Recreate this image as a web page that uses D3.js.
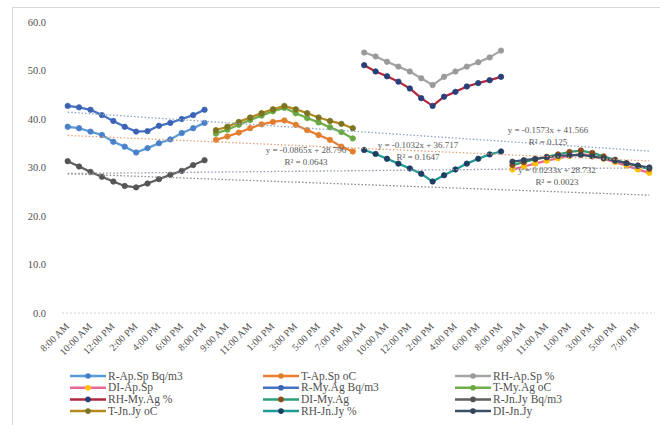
<!DOCTYPE html>
<html>
<head>
<meta charset="utf-8">
<script src="https://cdn.jsdelivr.net/npm/d3@7"></script>
<style>
  html, body { margin: 0; padding: 0; background: #fff; }
  svg { display: block; font-family: "Liberation Serif", "Times New Roman", serif; }
</style>
</head>
<body>
<svg id="chart" width="660" height="425"></svg>
<script>
// Hourly readings, 8:00 AM to 8:00 PM, one block per measured quantity
const hours = ["8:00 AM", "9:00 AM", "10:00 AM", "11:00 AM", "12:00 PM", "1:00 PM", "2:00 PM",
               "3:00 PM", "4:00 PM", "5:00 PM", "6:00 PM", "7:00 PM", "8:00 PM"];
const blocks = ["R", "T", "RH", "DI"];              // block order along the axis
const categories = blocks.flatMap(() => hours);     // 52 categories

const seriesNames = ["R-Ap.Sp Bq/m3", "T-Ap.Sp oC", "RH-Ap.Sp %", "DI-Ap.Sp",
                     "R-My.Ag Bq/m3", "T-My.Ag oC", "RH-My.Ag %", "DI-My.Ag",
                     "R-Jn.Jy Bq/m3", "T-Jn.Jy oC", "RH-Jn.Jy %", "DI-Jn.Jy"];
const seriesBlock = [0, 1, 2, 3, 0, 1, 2, 3, 0, 1, 2, 3];

const rApSp  = [38.4, 38.1, 37.4, 36.7, 35.3, 34.3, 33.1, 34.0, 35.0, 35.8, 37.1, 38.1, 39.2];
const tApSp  = [35.7, 36.4, 37.2, 38.1, 38.9, 39.4, 39.7, 38.8, 37.7, 36.7, 35.7, 34.3, 33.3];
const rhApSp = [53.7, 52.9, 51.8, 50.8, 49.8, 48.4, 47.0, 48.7, 49.8, 50.8, 51.7, 52.7, 54.1];
const diApSp = [29.6, 30.2, 30.8, 31.4, 31.9, 32.4, 32.8, 32.4, 31.8, 31.1, 30.4, 29.6, 28.9];
const rMyAg  = [42.7, 42.4, 41.9, 40.8, 39.6, 38.4, 37.4, 37.5, 38.6, 39.2, 40.0, 40.8, 41.9];
const tMyAg  = [37.0, 37.8, 38.8, 39.8, 40.7, 41.6, 42.3, 41.2, 40.2, 39.3, 38.3, 37.3, 36.0];
const rhMyAg = [51.1, 49.8, 48.8, 47.7, 46.3, 44.3, 42.7, 44.6, 45.6, 46.7, 47.4, 48.0, 48.7];
const diMyAg = [30.5, 31.1, 31.7, 32.2, 32.7, 33.2, 33.5, 33.0, 32.3, 31.6, 30.9, 30.3, 29.7];
const rJnJy  = [31.3, 30.2, 29.1, 28.1, 27.1, 26.2, 25.9, 26.7, 27.6, 28.5, 29.3, 30.5, 31.5];
const tJnJy  = [37.7, 38.4, 39.4, 40.3, 41.2, 42.0, 42.7, 42.0, 41.2, 40.3, 39.6, 39.0, 38.1];
const rhJnJy = [33.6, 32.8, 31.8, 30.8, 29.8, 28.7, 27.1, 28.4, 29.6, 30.8, 31.8, 32.7, 33.3];
const diJnJy = [31.2, 31.5, 31.8, 32.1, 32.4, 32.5, 32.6, 32.3, 31.9, 31.4, 30.9, 30.4, 30.0];

const seriesValues = [rApSp, tApSp, rhApSp, diApSp, rMyAg, tMyAg, rhMyAg, diMyAg,
                      rJnJy, tJnJy, rhJnJy, diJnJy];

const yTicks = [0, 10, 20, 30, 40, 50, 60];

// Linear trendlines (x = category number 1..52)
const trendSlopes     = [-0.1573, -0.1032, -0.0865, 0.0233];
const trendIntercepts = [41.566, 36.717, 28.796, 28.732];
const trendEquations  = ["y = -0.1573x + 41.566", "y = -0.1032x + 36.717",
                         "y = -0.0865x + 28.796", "y = 0.0233x + 28.732"];
const trendR2         = ["R² = 0.125", "R² = 0.1647", "R² = 0.0643", "R² = 0.0023"];

// Styling
const lineColors   = ["#5b9bd5", "#ed7d31", "#a5a5a5", "#e86a92",
                      "#4472c4", "#70ad47", "#b0283f", "#2e9e78",
                      "#5f5f5f", "#b38a1e", "#1f9a94", "#3d4f66"];
const markerColors = ["#4a7fc9", "#e0802e", "#9a9a9a", "#ffc000",
                      "#3b63b5", "#6aa843", "#26407a", "#8f4a1a",
                      "#555555", "#7a7424", "#1e3d63", "#33445a"];
const trendColors  = ["#8ea3c4", "#e6a27a", "#8a8a8a", "#8e9aa8"];
const trendLabelPos = [[548, 133], [418, 148], [306, 153], [557, 173]];

const svg = d3.select("#chart");
const W = 660, H = 425;

// chart frame
svg.append("rect").attr("x", 12.5).attr("y", 7.5).attr("width", W).attr("height", H)
   .attr("fill", "#fff").attr("stroke", "#d9d9d9").attr("stroke-width", 1);

const x = d3.scalePoint().domain(d3.range(categories.length)).range([62, 655]).padding(0.5);
const y = d3.scaleLinear().domain([0, 60]).range([313, 22]);

// y axis labels
svg.append("g").selectAll("text").data(yTicks).join("text")
   .attr("x", 46).attr("y", d => y(d)).attr("dy", "0.35em")
   .attr("text-anchor", "end").attr("font-size", 10.5).attr("fill", "#505050")
   .text(d => d3.format(".1f")(d));

// category axis line
svg.append("line").attr("x1", 62).attr("x2", 655).attr("y1", y(0)).attr("y2", y(0))
   .attr("stroke", "#d0d0d0").attr("stroke-width", 1).attr("stroke-dasharray", "2,2");

// category labels, every second hour
svg.append("g").selectAll("text")
   .data(d3.range(0, categories.length, 2)).join("text")
   .attr("transform", i => `translate(${x(i) + 2},${y(0) + 14}) rotate(-45)`)
   .attr("text-anchor", "end").attr("font-size", 10).attr("fill", "#505050")
   .text(i => categories[i]);

// series lines + markers
const line = d3.line().x(d => x(d.i)).y(d => y(d.v));
seriesValues.forEach((vals, s) => {
  const pts = vals.map((v, k) => ({ i: seriesBlock[s] * hours.length + k, v }));
  const g = svg.append("g");
  g.append("path").datum(pts).attr("d", line).attr("fill", "none")
   .attr("stroke", lineColors[s]).attr("stroke-width", 2.25).attr("stroke-linejoin", "round");
  g.selectAll("circle").data(pts).join("circle")
   .attr("cx", d => x(d.i)).attr("cy", d => y(d.v)).attr("r", 2.7)
   .attr("fill", markerColors[s]).attr("stroke", markerColors[s]).attr("stroke-width", 0.8);
});

// trendlines
const n = categories.length;
trendSlopes.forEach((m, t) => {
  const b = trendIntercepts[t];
  svg.append("line")
     .attr("x1", x(0)).attr("y1", y(m * 1 + b))
     .attr("x2", x(n - 1)).attr("y2", y(m * n + b))
     .attr("stroke", trendColors[t]).attr("stroke-width", 1.3)
     .attr("stroke-dasharray", "1.5,2");
  const [lx, ly] = trendLabelPos[t];
  svg.append("text").attr("x", lx).attr("y", ly).attr("text-anchor", "middle")
     .attr("font-size", 9).attr("fill", "#595959").text(trendEquations[t]);
  svg.append("text").attr("x", lx).attr("y", ly + 11.5).attr("text-anchor", "middle")
     .attr("font-size", 9).attr("fill", "#595959").text(trendR2[t]);
});

// legend, 3 columns
const legCols = [70, 263, 455], legRow0 = 376, legRowH = 11.7;
const leg = svg.append("g").selectAll("g").data(seriesNames).join("g")
   .attr("transform", (d, i) => `translate(${legCols[i % 3]},${legRow0 + Math.floor(i / 3) * legRowH})`);
leg.append("line").attr("x1", 0).attr("x2", 36).attr("y1", 0).attr("y2", 0)
   .attr("stroke", (d, i) => lineColors[i]).attr("stroke-width", 2.5);
leg.append("circle").attr("cx", 18).attr("cy", 0).attr("r", 2.8)
   .attr("fill", (d, i) => markerColors[i]);
leg.append("text").attr("x", 38).attr("y", 0).attr("dy", "0.33em")
   .attr("font-size", 11.5).attr("fill", "#505050").text(d => d);
</script>
</body>
</html>
